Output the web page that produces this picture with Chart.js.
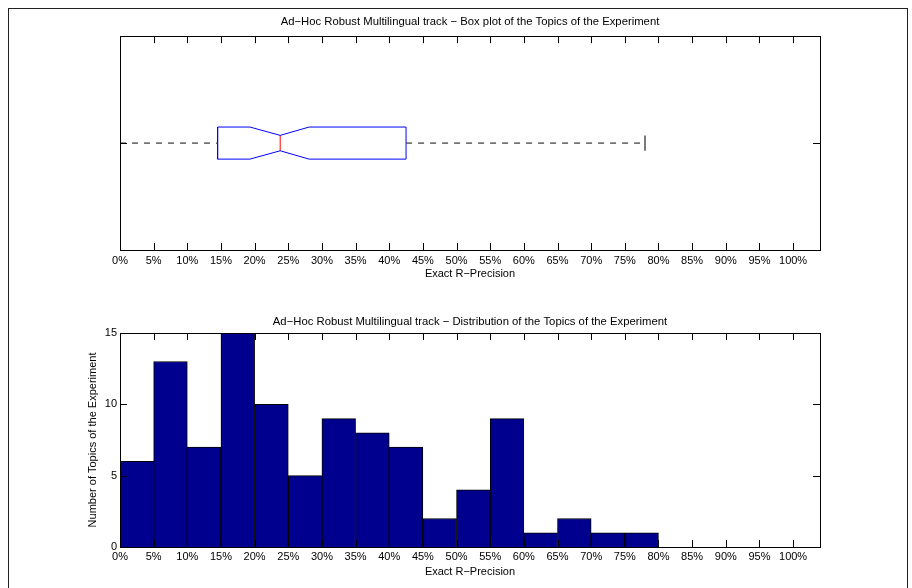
<!DOCTYPE html>
<html>
<head>
<meta charset="utf-8">
<script src="https://cdn.jsdelivr.net/npm/chart.js@4"></script>
<style>
    body { margin: 0; background: #fff; }
    #page { position: relative; width: 912px; height: 588px; overflow: hidden; background: #fff; }
    #outer { position: absolute; left: 8px; top: 8px; width: 898px; height: 620px; border: 1px solid #222; }
    .box { position: absolute; left: 0; width: 912px; }
</style>
</head>
<body>
<div id="page">
    <div id="outer"></div>
    <div class="box" style="top:0;height:290px;"><canvas id="boxChart" width="912" height="290"></canvas></div>
    <div class="box" style="top:290px;height:298px;"><canvas id="histChart" width="912" height="298"></canvas></div>
</div>
<script>
// -- Données --
const X_TICKS = [0,5,10,15,20,25,30,35,40,45,50,55,60,65,70,75,80,85,90,95,100]
const Y_TICKS = [0,5,10,15]

// bornes des classes (en %) et nombre de topics par classe
const BIN_START = [0,5,10,15,20,25,30,35,40,45,50,55,60,65,70,75,80,85,90,95]
const COUNTS    = [6,13,7,15,10,5,9,8,7,2,4,9,1,2,1,1,0,0,0,0]

// boîte à moustaches (en %)
const WHISKER_LOW  = 0
const Q1           = 14.5
const NOTCH_LOW    = 19.3
const MEDIAN       = 23.8
const NOTCH_HIGH   = 28.1
const Q3           = 42.5
const WHISKER_HIGH = 78

const TITLE_BOX  = 'Ad\u2212Hoc Robust Multilingual track \u2212 Box plot of the Topics of the Experiment'
const TITLE_HIST = 'Ad\u2212Hoc Robust Multilingual track \u2212 Distribution of the Topics of the Experiment'
const X_TITLE    = 'Exact R\u2212Precision'
const Y_TITLE    = 'Number of Topics of the Experiment'

// -- Style --
const BOX_HALF = 0.15
const NOTCH_HALF = 0.072
const TICK_LEN = 7

Chart.defaults.font.family = '"Liberation Sans", Arial, sans-serif'
Chart.defaults.font.size = 11
Chart.defaults.color = '#000'

// cadre + graduations vers l'intérieur (style matlab)
const framePlugin = {
    id: 'frame',
    afterDatasetsDraw(chart, args, opts) {
        const { ctx, chartArea: a, scales } = chart
        ctx.save()
        ctx.strokeStyle = '#000'
        ctx.lineWidth = 1
        ctx.beginPath()
        opts.xTicks.forEach(v => {
            const px = Math.round(scales.x.getPixelForValue(v)) + 0.5
            ctx.moveTo(px, a.top); ctx.lineTo(px, a.top + TICK_LEN)
            ctx.moveTo(px, a.bottom); ctx.lineTo(px, a.bottom - TICK_LEN)
        })
        opts.yTicks.forEach(v => {
            const py = Math.round(scales.y.getPixelForValue(v)) + 0.5
            ctx.moveTo(a.left, py); ctx.lineTo(a.left + TICK_LEN, py)
            ctx.moveTo(a.right, py); ctx.lineTo(a.right - TICK_LEN, py)
        })
        ctx.stroke()
        ctx.strokeRect(Math.round(a.left) + 0.5, Math.round(a.top) + 0.5,
            Math.round(a.right - a.left), Math.round(a.bottom - a.top))
        ctx.restore()
    }
}

const xTicksFromList = s => { s.ticks = X_TICKS.map(v => ({ value: v })) }
const pct = v => v + '%'

// -- Boîte à moustaches --
const notchOutline = [
    { x: Q1, y: -BOX_HALF }, { x: NOTCH_LOW, y: -BOX_HALF }, { x: MEDIAN, y: -NOTCH_HALF },
    { x: NOTCH_HIGH, y: -BOX_HALF }, { x: Q3, y: -BOX_HALF }, { x: Q3, y: BOX_HALF },
    { x: NOTCH_HIGH, y: BOX_HALF }, { x: MEDIAN, y: NOTCH_HALF }, { x: NOTCH_LOW, y: BOX_HALF },
    { x: Q1, y: BOX_HALF }, { x: Q1, y: -BOX_HALF }
]

const line = (data, color, dash, width) => ({
    data, showLine: true, borderColor: color, borderWidth: width || 1,
    borderDash: dash || [], pointRadius: 0, tension: 0, fill: false
})

new Chart(document.getElementById('boxChart'), {
    type: 'scatter',
    data: {
        datasets: [
            line([{ x: WHISKER_LOW, y: 0 }, { x: Q1, y: 0 }], '#444', [6, 6], 1.3),
            line([{ x: Q3, y: 0 }, { x: WHISKER_HIGH, y: 0 }], '#444', [6, 6], 1.3),
            line([{ x: WHISKER_LOW, y: -NOTCH_HALF }, { x: WHISKER_LOW, y: NOTCH_HALF }], '#333'),
            line([{ x: WHISKER_HIGH, y: -NOTCH_HALF }, { x: WHISKER_HIGH, y: NOTCH_HALF }], '#333', [], 1.3),
            line(notchOutline, '#0000ff'),
            line([{ x: MEDIAN, y: -NOTCH_HALF }, { x: MEDIAN, y: NOTCH_HALF }], '#ff0000')
        ]
    },
    options: {
        responsive: false,
        animation: false,
        devicePixelRatio: 1,
        layout: { padding: { left: 120, right: 92, top: 0, bottom: 0 } },
        plugins: {
            legend: { display: false },
            tooltip: { enabled: false },
            title: {
                display: true, text: TITLE_BOX, fullSize: false,
                font: { size: 11.3, weight: 'normal' }, color: '#000',
                padding: { top: 15, bottom: 7.6 }
            },
            frame: { xTicks: X_TICKS, yTicks: [0] }
        },
        scales: {
            x: {
                type: 'linear', min: 0, max: 104,
                afterBuildTicks: xTicksFromList,
                afterFit: s => { s.height = 40 },
                grid: { display: false, drawTicks: false },
                border: { display: false },
                ticks: { callback: pct, autoSkip: false, maxRotation: 0, padding: 4.4 },
                title: { display: true, text: X_TITLE, padding: { top: 0, bottom: 9.4 } }
            },
            y: { type: 'linear', min: -1, max: 1, display: false }
        }
    },
    plugins: [framePlugin]
})

// -- Histogramme --
new Chart(document.getElementById('histChart'), {
    type: 'bar',
    data: {
        datasets: [{
            data: BIN_START.map((b, i) => ({ x: b + 2.5, y: COUNTS[i] })),
            backgroundColor: '#00008f',
            borderColor: '#000',
            borderWidth: 1,
            barPercentage: 1,
            categoryPercentage: 1
        }]
    },
    options: {
        responsive: false,
        animation: false,
        devicePixelRatio: 1,
        layout: { padding: { left: 0, right: 92, top: 0, bottom: 0 } },
        plugins: {
            legend: { display: false },
            tooltip: { enabled: false },
            title: {
                display: true, text: TITLE_HIST, fullSize: false,
                font: { size: 11.3, weight: 'normal' }, color: '#000',
                padding: { top: 25.2, bottom: 4.2 }
            },
            frame: { xTicks: X_TICKS, yTicks: Y_TICKS }
        },
        scales: {
            x: {
                type: 'linear', min: 0, max: 104, offset: false,
                afterBuildTicks: xTicksFromList,
                afterFit: s => { s.height = 41 },
                grid: { display: false, drawTicks: false },
                border: { display: false },
                ticks: { callback: pct, autoSkip: false, maxRotation: 0, padding: 3.4 },
                title: { display: true, text: X_TITLE, padding: { top: 0, bottom: 9.4 } }
            },
            y: {
                type: 'linear', min: 0, max: 15,
                afterBuildTicks: s => { s.ticks = Y_TICKS.map(v => ({ value: v })) },
                afterFit: s => { s.width = 120 },
                grid: { display: false, drawTicks: false },
                border: { display: false },
                ticks: { padding: 3 },
                title: { display: true, text: Y_TITLE, padding: { top: 86.4, bottom: 0 } }
            }
        }
    },
    plugins: [framePlugin]
})
</script>
</body>
</html>
